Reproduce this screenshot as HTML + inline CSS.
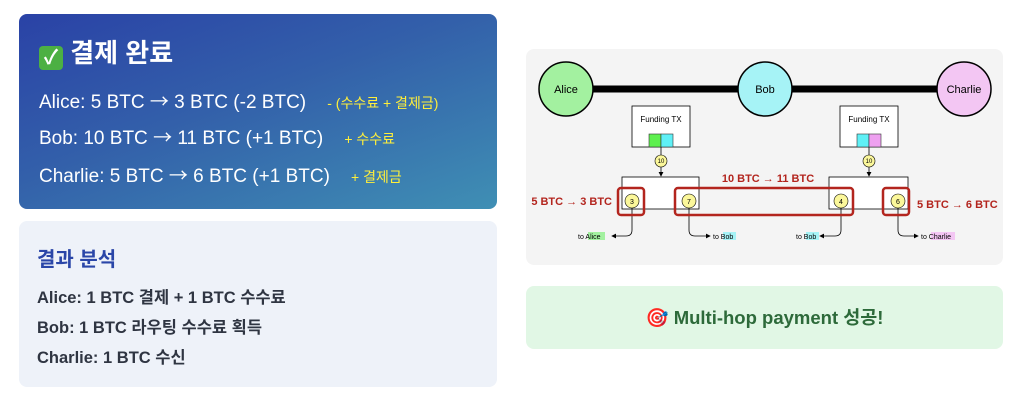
<!DOCTYPE html>
<html><head><meta charset="utf-8"><style>
body{margin:0;width:1034px;height:414px;background:#fff;font-family:"Liberation Sans","Noto Sans CJK KR",sans-serif;position:relative;overflow:hidden}
.a{position:absolute}
.c1{left:19px;top:14px;width:478px;height:195px;border-radius:8px;background:linear-gradient(160deg,#2a42a6 0%,#3360aa 45%,#3f8fb4 100%);color:#fff}
.c2{left:19px;top:221px;width:478px;height:166px;border-radius:8px;background:#eef2f9}
.y{color:#ffef3a;font-size:14px;font-weight:normal}
.ln{position:absolute;left:20px;font-size:19px;white-space:nowrap}
.ln b{font-family:"Noto Sans CJK KR",sans-serif;font-weight:normal}
.bl{position:absolute;left:18px;font-size:16.5px;font-weight:bold;color:#2f3542}
</style></head><body>
<div class="a c1">
 <div class="a" style="left:20px;top:19px;font-size:26px;font-weight:bold"><span style="display:inline-block;width:24px;height:24px;background:#4cb043;border-radius:4px;color:#fff;text-align:center;line-height:24px;font-size:20px;vertical-align:-2px">✓</span> 결제 완료</div>
 <div class="ln" style="top:73px">Alice: 5 BTC <b>→</b> 3 BTC (-2 BTC) &nbsp;&nbsp; <span class="y">- (수수료 + 결제금)</span></div>
 <div class="ln" style="top:109px">Bob: 10 BTC <b>→</b> 11 BTC (+1 BTC) &nbsp;&nbsp; <span class="y">+ 수수료</span></div>
 <div class="ln" style="top:147px">Charlie: 5 BTC <b>→</b> 6 BTC (+1 BTC) &nbsp;&nbsp; <span class="y">+ 결제금</span></div>
</div>
<div class="a c2">
 <div class="a" style="left:18px;top:22px;font-size:20px;font-weight:bold;color:#2a46a8">결과 분석</div>
 <div class="bl" style="top:63px">Alice: 1 BTC 결제 + 1 BTC 수수료</div>
 <div class="bl" style="top:93px">Bob: 1 BTC 라우팅 수수료 획득</div>
 <div class="bl" style="top:123px">Charlie: 1 BTC 수신</div>
</div>
<div class="a" style="left:526px;top:49px;width:477px;height:216px;border-radius:8px;background:#f4f4f4"></div>
<svg class="a" style="left:0;top:0" width="1034" height="414" font-family="Liberation Sans, sans-serif">
<defs><marker id="m" markerWidth="6" markerHeight="6" refX="5" refY="3" orient="auto"><path d="M0,0L6,3L0,6z" fill="#000"/></marker></defs>
<line x1="566" y1="89" x2="964" y2="89" stroke="#000" stroke-width="7"/>
<circle cx="566" cy="89" r="27" fill="#a3f1a0" stroke="#000" stroke-width="1.5"/>
<circle cx="765" cy="89" r="27" fill="#a6f3f6" stroke="#000" stroke-width="1.5"/>
<circle cx="964" cy="89" r="27" fill="#f3c6f3" stroke="#000" stroke-width="1.5"/>
<g font-size="11" text-anchor="middle"><text x="566" y="93">Alice</text><text x="765" y="93">Bob</text><text x="964" y="93">Charlie</text></g>
<rect x="632" y="106" width="58" height="41" fill="#fff" stroke="#000" stroke-width=".8"/>
<rect x="840" y="106" width="58" height="41" fill="#fff" stroke="#000" stroke-width=".8"/>
<g font-size="8" text-anchor="middle"><text x="661" y="122">Funding TX</text><text x="869" y="122">Funding TX</text></g>
<rect x="649" y="134" width="12" height="13" fill="#5ef04f" stroke="#333" stroke-width=".6"/><rect x="661" y="134" width="12" height="13" fill="#5ff0f6" stroke="#333" stroke-width=".6"/>
<rect x="857" y="134" width="12" height="13" fill="#5ff0f6" stroke="#333" stroke-width=".6"/><rect x="869" y="134" width="12" height="13" fill="#eea0f0" stroke="#333" stroke-width=".6"/>
<line x1="661" y1="147" x2="661" y2="176" stroke="#000" stroke-width=".8" marker-end="url(#m)"/>
<line x1="869" y1="147" x2="869" y2="176" stroke="#000" stroke-width=".8" marker-end="url(#m)"/>
<g font-size="6" text-anchor="middle"><circle cx="661" cy="161" r="6" fill="#fbf79a" stroke="#000" stroke-width=".6"/><text x="661" y="163">10</text>
<circle cx="869" cy="161" r="6" fill="#fbf79a" stroke="#000" stroke-width=".6"/><text x="869" y="163">10</text></g>
<rect x="622" y="177" width="77" height="32" fill="#fff" stroke="#000" stroke-width=".8"/>
<rect x="829" y="177" width="79" height="32" fill="#fff" stroke="#000" stroke-width=".8"/>
<g fill="none" stroke="#000" stroke-width=".8">
<path d="M632,207V230q0,6 -6,6H612" marker-end="url(#m)"/>
<path d="M689,207V230q0,6 6,6H710" marker-end="url(#m)"/>
<path d="M841,207V230q0,6 -6,6H820" marker-end="url(#m)"/>
<path d="M898,207V230q0,6 6,6H918" marker-end="url(#m)"/>
</g>
<g font-size="7" text-anchor="middle">
<circle cx="632" cy="201" r="7" fill="#fbf79a" stroke="#000" stroke-width=".6"/><text x="632" y="204">3</text>
<circle cx="689" cy="201" r="7" fill="#fbf79a" stroke="#000" stroke-width=".6"/><text x="689" y="204">7</text>
<circle cx="841" cy="201" r="7" fill="#fbf79a" stroke="#000" stroke-width=".6"/><text x="841" y="204">4</text>
<circle cx="898" cy="201" r="7" fill="#fbf79a" stroke="#000" stroke-width=".6"/><text x="898" y="204">6</text>
</g>
<g fill="none" stroke="#b3251e" stroke-width="2.5">
<rect x="618" y="188" width="26" height="27" rx="3"/><rect x="675" y="188" width="178" height="27" rx="3"/><rect x="883" y="188" width="26" height="27" rx="3"/>
</g>
<g font-size="11" font-weight="bold" fill="#b3251e">
<text x="612" y="205" text-anchor="end">5 BTC → 3 BTC</text>
<text x="768" y="182" text-anchor="middle">10 BTC → 11 BTC</text>
<text x="917" y="208">5 BTC → 6 BTC</text>
</g>
<g font-size="7">
<rect x="588" y="232" width="17" height="8" fill="#a3f1a0"/><text x="578" y="239">to Alice</text>
<rect x="723" y="232" width="13" height="8" fill="#a6f3f6"/><text x="713" y="239">to Bob</text>
<rect x="806" y="232" width="13" height="8" fill="#a6f3f6"/><text x="796" y="239">to Bob</text>
<rect x="931" y="232" width="24" height="8" fill="#f3c6f3"/><text x="921" y="239">to Charlie</text>
</g>
</svg>
<div class="a" style="left:526px;top:286px;width:477px;height:63px;border-radius:8px;background:#e1f7e5;text-align:center;line-height:63px;font-size:18.5px;font-weight:bold;color:#2d6a3a">🎯 Multi-hop payment 성공!</div>
</body></html>
